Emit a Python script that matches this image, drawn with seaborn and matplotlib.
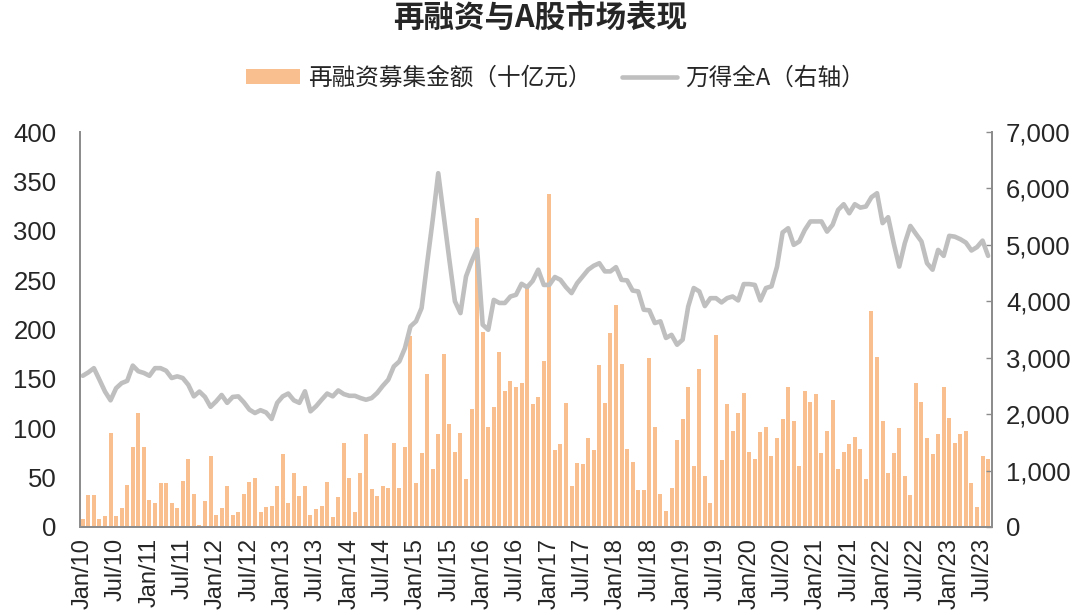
import numpy as np
import pandas as pd
import matplotlib
matplotlib.use("Agg")
import matplotlib.pyplot as plt
import seaborn as sns
from matplotlib.patches import Patch
from matplotlib.lines import Line2D
from matplotlib.ticker import FuncFormatter, MultipleLocator

# ---------------- data ----------------
refinancing = [
    8, 32, 32, 8, 11, 95, 11, 19, 43, 81, 115, 81,
    27, 24, 45, 45, 24, 19, 47, 69, 33, 2, 26, 72,
    12, 19, 42, 12, 15, 33, 46, 50, 15, 20, 21, 42,
    74, 24, 55, 31, 42, 12, 18, 21, 46, 10, 30, 85,
    50, 15, 55, 94, 38, 31, 42, 40, 85, 40, 81, 193,
    45, 75, 155, 59, 94, 175, 104, 76, 95, 49, 120, 313,
    197, 101, 122, 177, 138, 148, 142, 146, 244, 125, 132, 168,
    337, 78, 84, 126, 42, 65, 64, 90, 78, 164, 126, 196,
    225, 165, 79, 66, 37, 37, 171, 101, 33, 16, 40, 88,
    109, 142, 62, 160, 52, 24, 194, 68, 125, 97, 115, 136,
    76, 69, 96, 101, 72, 90, 109, 142, 107, 62, 138, 127,
    135, 75, 97, 129, 59, 76, 84, 91, 79, 49, 219, 172,
    107, 55, 75, 100, 52, 32, 146, 127, 90, 74, 94, 142,
    110, 85, 94, 97, 45, 20, 72, 69,
]
wind_all_a = [
    2680, 2740, 2815, 2610, 2400, 2245, 2460, 2550, 2590, 2860, 2760, 2730,
    2680, 2815, 2815, 2770, 2640, 2670, 2640, 2520, 2315, 2400, 2305, 2130,
    2225, 2340, 2200, 2305, 2315, 2210, 2080, 2020, 2070, 2030, 1915, 2200,
    2315, 2365, 2245, 2200, 2405, 2050, 2140, 2255, 2365, 2315, 2420, 2355,
    2325, 2325, 2285, 2255, 2285, 2375, 2500, 2610, 2845, 2935, 3170, 3555,
    3645, 3880, 4675, 5440, 6270, 5500, 4735, 4000, 3790, 4440, 4705, 4925,
    3585, 3495, 4025, 3970, 3970, 4085, 4115, 4310, 4250, 4360, 4560, 4290,
    4290, 4430, 4380, 4250, 4145, 4320, 4440, 4560, 4630, 4675, 4530, 4530,
    4605, 4380, 4370, 4190, 4175, 3850, 3840, 3615, 3645, 3350, 3405, 3230,
    3320, 3905, 4235, 4175, 3915, 4055, 4055, 3980, 4055, 4085, 4015, 4305,
    4305, 4290, 4015, 4235, 4265, 4615, 5220, 5295, 5000, 5060, 5265, 5415,
    5415, 5415, 5235, 5355, 5620, 5720, 5560, 5720, 5660, 5680, 5845, 5915,
    5385, 5490, 5030, 4615, 5030, 5335, 5195, 5060, 4675, 4560, 4910, 4805,
    5160, 5145, 5100, 5040, 4900, 4960, 5075, 4805,
]
tick_labels = [
    "Jan/10", "Jul/10", "Jan/11", "Jul/11", "Jan/12", "Jul/12", "Jan/13",
    "Jul/13", "Jan/14", "Jul/14", "Jan/15", "Jul/15", "Jan/16", "Jul/16",
    "Jan/17", "Jul/17", "Jan/18", "Jul/18", "Jan/19", "Jul/19", "Jan/20",
    "Jul/20", "Jan/21", "Jul/21", "Jan/22", "Jul/22", "Jan/23", "Jul/23",
]
title = "再融资与A股市场表现"
bar_name = "再融资募集金额（十亿元）"
line_name = "万得全A（右轴）"

# ---------------- style ----------------
sns.set_theme(style="white")
plt.rcParams["font.family"] = ["Liberation Sans", "Noto Sans CJK SC", "DejaVu Sans"]
cjk = ["Noto Sans CJK SC", "DejaVu Sans"]

BAR_C = "#F9BF8F"
LINE_C = "#BFBFBF"
AX_C = "#8C8C8C"

n = len(refinancing)
df = pd.DataFrame({"idx": np.arange(n), "refi": refinancing, "wind": wind_all_a})

fig = plt.figure(figsize=(10.8, 6.15), dpi=100)
ax = fig.add_axes([80 / 1080, 1 - 527 / 615, (992 - 80) / 1080, (527 - 132) / 615])

sns.barplot(data=df, x="idx", y="refi", ax=ax, color=BAR_C, width=0.72,
            saturation=1, native_scale=True, edgecolor="none")

ax2 = ax.twinx()
sns.lineplot(data=df, x="idx", y="wind", ax=ax2, color=LINE_C, linewidth=3.3)

ax.set_xlim(-0.5, n - 0.3)
ax.set_ylim(0, 400)
ax2.set_ylim(0, 7000)
ax.yaxis.set_major_locator(MultipleLocator(50))
ax2.yaxis.set_major_locator(MultipleLocator(1000))
ax2.yaxis.set_major_formatter(FuncFormatter(lambda v, p: f"{int(v):,}"))

ax.set_xticks(np.arange(0, n, 6))
ax.set_xticklabels(tick_labels, rotation=90, fontsize=17)
ax.set_xticks(np.arange(n), minor=True)
ax.tick_params(axis="x", which="both", direction="out", length=5, width=1,
               color=AX_C, pad=3)
ax.tick_params(axis="y", labelsize=18.5, length=0, pad=17)
ax2.tick_params(axis="y", labelsize=18.5, direction="in", length=4, width=1,
                color=AX_C, pad=10)
for a in (ax, ax2):
    a.set_xlabel("")
    a.set_ylabel("")
    a.spines["top"].set_visible(False)
    for s in ("left", "right", "bottom"):
        a.spines[s].set_color(AX_C)
        a.spines[s].set_linewidth(1.3)
ax.grid(False)
ax2.grid(False)

fig.text(0.5, 1 - 18 / 615, title, ha="center", va="center", fontsize=22,
         fontweight="bold", family=cjk)

handles = [Patch(facecolor=BAR_C, edgecolor="none"),
           Line2D([0], [0], color=LINE_C, linewidth=3.3)]
fig.legend(handles, [bar_name, line_name], loc="center",
           bbox_to_anchor=(0.514, 1 - 78 / 615), ncol=2, frameon=False,
           prop={"family": cjk, "size": 17}, handlelength=2.3,
           handleheight=0.6, columnspacing=1.3, handletextpad=0.35)

fig.savefig("out.png", dpi=100)
